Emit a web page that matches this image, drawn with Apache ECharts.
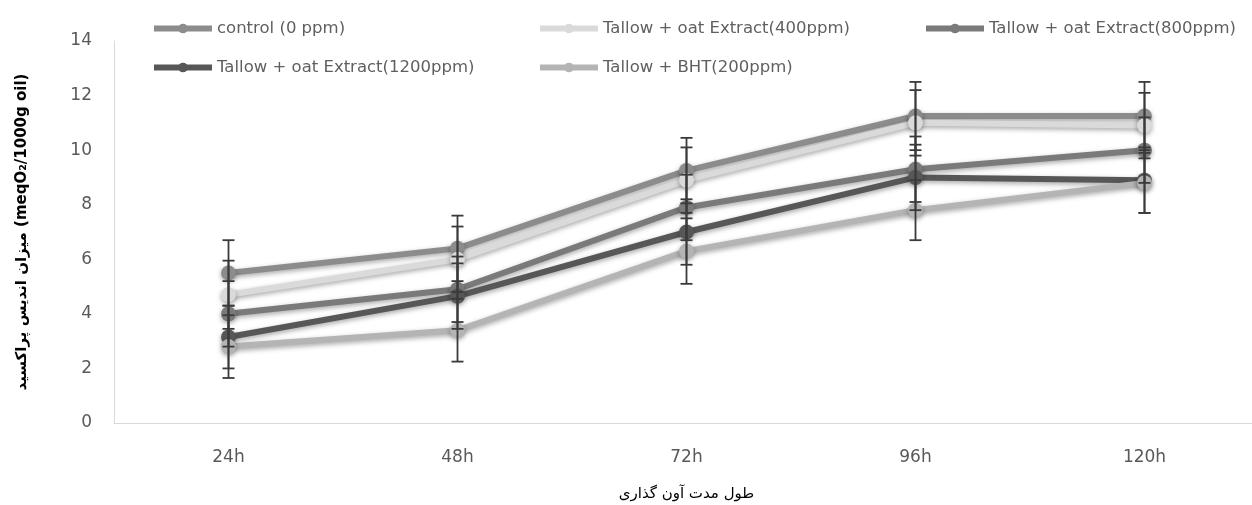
<!DOCTYPE html>
<html><head><meta charset="utf-8">
<script src="https://cdn.jsdelivr.net/npm/echarts@6/dist/echarts.min.js"></script>
<style>html,body{margin:0;padding:0;background:#fff}#c{width:1252px;height:505px}</style>
</head><body><div id="c"></div>
<script>
const categories = ['24h', '48h', '72h', '96h', '120h'];
const seriesNames = ['control (0 ppm)', 'Tallow + oat Extract(400ppm)', 'Tallow + oat Extract(800ppm)', 'Tallow + oat Extract(1200ppm)', 'Tallow + BHT(200ppm)'];
const control = [5.5, 6.4, 9.25, 11.25, 11.25];
const oat400 = [4.7, 6.0, 8.9, 11.0, 10.9];
const oat800 = [4.0, 4.9, 7.9, 9.3, 10.0];
const oat1200 = [3.15, 4.65, 7.0, 9.0, 8.9];
const bht200 = [2.8, 3.4, 6.3, 7.8, 8.8];
const errControl = [1.2, 1.2, 1.2, 1.25, 1.25];
const err400 = [1.25, 1.2, 1.2, 1.2, 1.2];
const err800 = [1.2, 1.2, 1.2, 1.2, 1.2];
const err1200 = [1.15, 1.2, 1.2, 1.2, 1.2];
const errBHT = [1.15, 1.15, 1.2, 1.1, 1.1];
const yTicks = [0, 2, 4, 6, 8, 10, 12, 14];

const values = [control, oat400, oat800, oat1200, bht200];
const errors = [errControl, err400, err800, err1200, errBHT];
const colors = ['#8c8c8c', '#dadada', '#7a7a7a', '#575757', '#b4b4b4'];

const lineSeries = values.map((v, i) => ({
  name: seriesNames[i], type: 'line', data: v, z: 3,
  symbol: 'circle', symbolSize: 15,
  lineStyle: {width: 6, color: colors[i], shadowBlur: 5, shadowColor: 'rgba(0,0,0,0.35)', shadowOffsetY: 2},
  itemStyle: {color: colors[i], shadowBlur: 5, shadowColor: 'rgba(0,0,0,0.35)', shadowOffsetY: 2},
  emphasis: {disabled: true}
}));

const errSeries = values.map((v, i) => ({
  type: 'custom', z: 4, silent: true,
  data: v.map((y, j) => [j, y - errors[i][j], y + errors[i][j]]),
  renderItem: function (params, api) {
    const lo = api.coord([api.value(0), api.value(1)]);
    const hi = api.coord([api.value(0), api.value(2)]);
    const hw = 6;
    const st = {stroke: '#3a3a3a', lineWidth: 1.8};
    return {type: 'group', children: [
      {type: 'line', shape: {x1: lo[0], y1: lo[1], x2: hi[0], y2: hi[1]}, style: st},
      {type: 'line', shape: {x1: lo[0] - hw, y1: lo[1], x2: lo[0] + hw, y2: lo[1]}, style: st},
      {type: 'line', shape: {x1: hi[0] - hw, y1: hi[1], x2: hi[0] + hw, y2: hi[1]}, style: st}
    ]};
  }
}));

const legendPos = [[146, 15], [532, 15], [918, 15], [146, 54], [532, 54]];
const legends = seriesNames.map((n, i) => ({
  data: [n], left: legendPos[i][0], top: legendPos[i][1],
  itemWidth: 58, itemHeight: 12, itemGap: 0,
  lineStyle: {width: 6},
  textStyle: {fontSize: 16.5, color: '#5f5f5f', fontFamily: 'DejaVu Sans, sans-serif'}
}));

const chart = echarts.init(document.getElementById('c'));
chart.setOption({
  animation: false,
  backgroundColor: '#fff',
  legend: legends,
  grid: {left: 114, top: 41, width: 1145, bottom: 82, containLabel: false, outerBoundsMode: 'none'},
  xAxis: {
    type: 'category', data: categories, boundaryGap: true,
    axisLine: {lineStyle: {color: '#d9d9d9', width: 1}},
    axisTick: {show: false},
    axisLabel: {fontSize: 17, color: '#595959', margin: 26, fontFamily: 'DejaVu Sans, sans-serif'},
    name: 'طول مدت آون گذاری', nameLocation: 'middle', nameGap: 64,
    nameTextStyle: {fontSize: 15, color: '#000', fontFamily: 'DejaVu Sans, Noto Sans, sans-serif'}
  },
  yAxis: {
    type: 'value', min: 0, max: 14, interval: 2,
    axisLine: {show: true, lineStyle: {color: '#d9d9d9'}},
    axisTick: {show: false}, splitLine: {show: false},
    axisLabel: {fontSize: 17, color: '#595959', margin: 22, fontFamily: 'DejaVu Sans, sans-serif',
      formatter: v => yTicks.includes(v) ? String(v) : ''},
    name: 'میزان اندیس پراکسید (meqO₂/1000g oil)', nameLocation: 'middle', nameGap: 84, nameRotate: 90,
    nameTextStyle: {fontSize: 15, fontWeight: 'bold', color: '#000', fontFamily: 'DejaVu Sans, Noto Sans, sans-serif'}
  },
  series: [...lineSeries, ...errSeries]
});
</script></body></html>
